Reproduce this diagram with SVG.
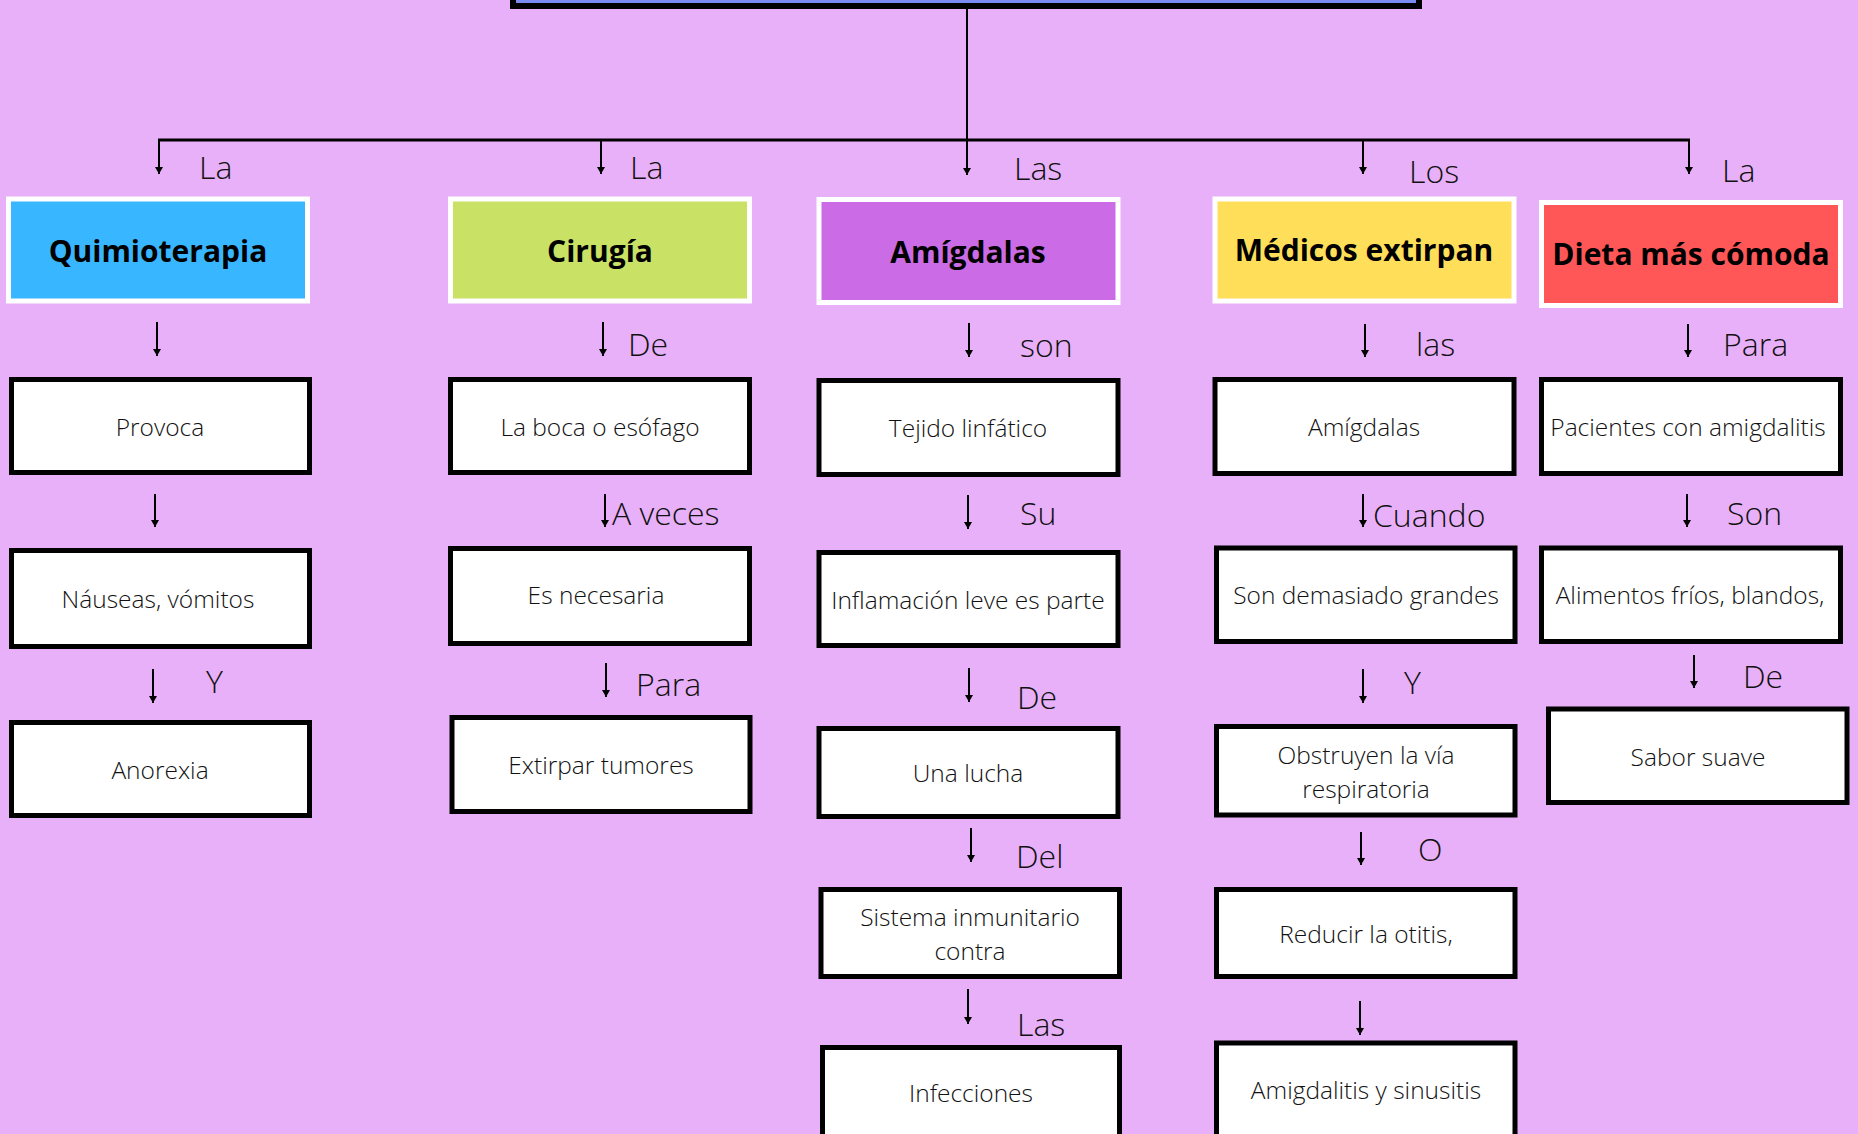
<svg xmlns="http://www.w3.org/2000/svg" width="1858" height="1134" viewBox="0 0 1858 1134">
<defs>
<marker id="ah" markerUnits="userSpaceOnUse" markerWidth="10" markerHeight="10" refX="7" refY="4" orient="auto">
<path d="M0,0 L7,4 L0,8 z" fill="#000"/>
</marker>
<style>
.bg{fill:#e8b0f8}
.title{fill:none;stroke:#fff;stroke-width:5}
.tt{font-family:"Open Sans","Noto Sans","Liberation Sans",sans-serif;font-weight:700;font-size:30px;fill:#000;text-anchor:middle;dominant-baseline:central}
.box{fill:#fff;stroke:#000;stroke-width:5}
.nt{font-family:"Open Sans","Noto Sans","Liberation Sans",sans-serif;font-weight:300;font-size:24.5px;fill:#111;text-anchor:middle;dominant-baseline:central}
.lb{font-family:"Open Sans","Noto Sans","Liberation Sans",sans-serif;font-weight:300;font-size:32px;fill:#111}
.ar{stroke:#000;stroke-width:2;fill:none;marker-end:url(#ah)}
.ln{stroke:#000;fill:none}
</style>
</defs>
<rect class="bg" x="0" y="0" width="1858" height="1134"/>

<g id="root">
<rect x="513" y="-40" width="906" height="46" fill="#7b8cf0" stroke="#000" stroke-width="6"/>
</g>

<g id="connectors">
<line class="ln" x1="967" y1="9" x2="967" y2="140" stroke-width="2"/>
<line class="ln" x1="158" y1="140" x2="1690" y2="140" stroke-width="3"/>
<line class="ar" x1="159" y1="140" x2="159" y2="174"/>
<line class="ar" x1="601" y1="140" x2="601" y2="174"/>
<line class="ar" x1="967" y1="140" x2="967" y2="175"/>
<line class="ar" x1="1363" y1="140" x2="1363" y2="174"/>
<line class="ar" x1="1689" y1="140" x2="1689" y2="174"/>
<text class="lb" x="199" y="179">La</text>
<text class="lb" x="630" y="179">La</text>
<text class="lb" x="1014" y="180">Las</text>
<text class="lb" x="1409" y="183">Los</text>
<text class="lb" x="1722" y="182">La</text>

<line class="ar" x1="157" y1="322" x2="157" y2="356"/>
<line class="ar" x1="155" y1="494" x2="155" y2="527"/>
<line class="ar" x1="153" y1="669" x2="153" y2="703"/>
<text class="lb" x="206" y="693">Y</text>

<line class="ar" x1="603" y1="322" x2="603" y2="356"/>
<line class="ar" x1="605" y1="494" x2="605" y2="527"/>
<line class="ar" x1="606" y1="663" x2="606" y2="697"/>
<text class="lb" x="628" y="356">De</text>
<text class="lb" x="612" y="525">A veces</text>
<text class="lb" x="636" y="696">Para</text>

<line class="ar" x1="969" y1="323" x2="969" y2="357"/>
<line class="ar" x1="968" y1="495" x2="968" y2="529"/>
<line class="ar" x1="969" y1="668" x2="969" y2="702"/>
<line class="ar" x1="971" y1="828" x2="971" y2="862"/>
<line class="ar" x1="968" y1="989" x2="968" y2="1024"/>
<text class="lb" x="1020" y="357">son</text>
<text class="lb" x="1020" y="525">Su</text>
<text class="lb" x="1017" y="709">De</text>
<text class="lb" x="1016" y="868">Del</text>
<text class="lb" x="1017" y="1036">Las</text>

<line class="ar" x1="1365" y1="324" x2="1365" y2="357"/>
<line class="ar" x1="1363" y1="494" x2="1363" y2="527"/>
<line class="ar" x1="1363" y1="669" x2="1363" y2="703"/>
<line class="ar" x1="1361" y1="832" x2="1361" y2="865"/>
<line class="ar" x1="1360" y1="1001" x2="1360" y2="1035"/>
<text class="lb" x="1416" y="356">las</text>
<text class="lb" x="1373" y="527">Cuando</text>
<text class="lb" x="1404" y="694">Y</text>
<text class="lb" x="1418" y="861">O</text>

<line class="ar" x1="1688" y1="324" x2="1688" y2="357"/>
<line class="ar" x1="1687" y1="494" x2="1687" y2="527"/>
<line class="ar" x1="1694" y1="655" x2="1694" y2="688"/>
<text class="lb" x="1723" y="356">Para</text>
<text class="lb" x="1727" y="525">Son</text>
<text class="lb" x="1743" y="688">De</text>
</g>

<g id="quimioterapia"><rect class="title" x="8.5" y="199" width="299" height="102" style="fill:#38b6ff"/><text class="tt" x="158" y="250">Quimioterapia</text></g>
<g id="cirugia"><rect class="title" x="450.5" y="199" width="299" height="102" style="fill:#c9e265"/><text class="tt" x="600" y="250">Cirugía</text></g>
<g id="amigdalas"><rect class="title" x="819" y="199.5" width="299" height="103" style="fill:#cb6ce6"/><text class="tt" x="968" y="251">Amígdalas</text></g>
<g id="medicos"><rect class="title" x="1215" y="199" width="299" height="102" style="fill:#ffde59"/><text class="tt" x="1364" y="249">Médicos extirpan</text></g>
<g id="dieta"><rect class="title" x="1541.5" y="202.5" width="299" height="103" style="fill:#ff5757"/><text class="tt" x="1691" y="253">Dieta más cómoda</text></g>

<g id="provoca"><rect class="box" x="11.5" y="379.5" width="298" height="93"/><text class="nt" x="160" y="426">Provoca</text></g>
<g id="nauseas"><rect class="box" x="11.5" y="550.5" width="298" height="96"/><text class="nt" x="158" y="598">Náuseas, vómitos</text></g>
<g id="anorexia"><rect class="box" x="11.5" y="722.5" width="298" height="93"/><text class="nt" x="160" y="769">Anorexia</text></g>

<g id="boca"><rect class="box" x="450.5" y="379.5" width="299" height="93"/><text class="nt" x="600" y="426">La boca o esófago</text></g>
<g id="necesaria"><rect class="box" x="450.5" y="548.5" width="299" height="95"/><text class="nt" x="596" y="594">Es necesaria</text></g>
<g id="extirpar"><rect class="box" x="452" y="717.5" width="298" height="94"/><text class="nt" x="601" y="764">Extirpar tumores</text></g>

<g id="tejido"><rect class="box" x="819" y="380.5" width="299" height="94"/><text class="nt" x="968" y="427">Tejido linfático</text></g>
<g id="inflamacion"><rect class="box" x="819" y="552.5" width="299" height="93"/><text class="nt" x="968" y="599">Inflamación leve es parte</text></g>
<g id="lucha"><rect class="box" x="819" y="728.5" width="299" height="88"/><text class="nt" x="968" y="772">Una lucha</text></g>
<g id="sistema"><rect class="box" x="821" y="889.5" width="298.5" height="87"/><text class="nt" x="970" y="916">Sistema inmunitario</text><text class="nt" x="970" y="950">contra</text></g>
<g id="infecciones"><rect class="box" x="822.5" y="1047.5" width="297" height="120"/><text class="nt" x="971" y="1092">Infecciones</text></g>

<g id="amigdalas2"><rect class="box" x="1215" y="379.5" width="299" height="94"/><text class="nt" x="1364" y="426">Amígdalas</text></g>
<g id="grandes"><rect class="box" x="1216.5" y="548" width="298.5" height="93.5"/><text class="nt" x="1366" y="594">Son demasiado grandes</text></g>
<g id="obstruyen"><rect class="box" x="1216.5" y="726.5" width="298.5" height="88.5"/><text class="nt" x="1366" y="754">Obstruyen la vía</text><text class="nt" x="1366" y="788">respiratoria</text></g>
<g id="otitis"><rect class="box" x="1216.5" y="889.5" width="298.5" height="87"/><text class="nt" x="1366" y="933">Reducir la otitis,</text></g>
<g id="sinusitis"><rect class="box" x="1216.5" y="1043" width="298.5" height="120"/><text class="nt" x="1366" y="1089">Amigdalitis y sinusitis</text></g>

<g id="pacientes"><rect class="box" x="1541.5" y="379.5" width="299" height="94"/><text class="nt" x="1688" y="426">Pacientes con amigdalitis</text></g>
<g id="alimentos"><rect class="box" x="1541.5" y="548" width="299" height="93.5"/><text class="nt" x="1690" y="594">Alimentos fríos, blandos,</text></g>
<g id="sabor"><rect class="box" x="1548.5" y="709" width="298.5" height="93.5"/><text class="nt" x="1698" y="756">Sabor suave</text></g>
</svg>
